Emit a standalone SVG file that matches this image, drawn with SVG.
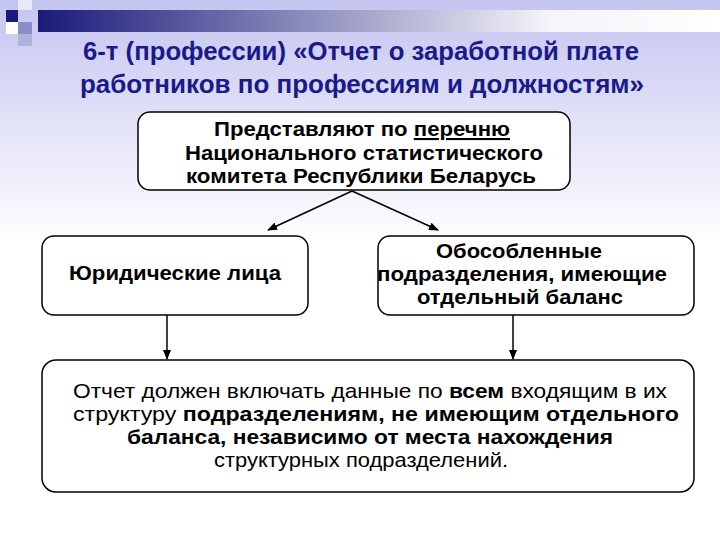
<svg xmlns="http://www.w3.org/2000/svg" width="720" height="540" viewBox="0 0 720 540">
<defs>
<linearGradient id="bg" x1="0" y1="0" x2="0" y2="1"><stop offset="0" stop-color="#c4c4f0"/><stop offset="0.45" stop-color="#ffffff"/><stop offset="1" stop-color="#ffffff"/></linearGradient>
<linearGradient id="bar" x1="0" y1="0" x2="1" y2="0"><stop offset="0" stop-color="#1a1a7a"/><stop offset="0.75" stop-color="#f4f4fa"/><stop offset="1" stop-color="#ffffff"/></linearGradient>
<marker id="ah" markerWidth="10" markerHeight="8" refX="9" refY="4" orient="auto" markerUnits="userSpaceOnUse"><path d="M0,0 L10,4 L0,8 Z" fill="#000"/></marker>
<style>
.box{fill:#fff;stroke:#000;stroke-width:1.5}
.t{font-family:"Liberation Sans",Arial,sans-serif;font-size:21px;text-anchor:middle;fill:#000}
.b{font-weight:bold}
.title{font-family:"Liberation Sans",Arial,sans-serif;font-size:26px;font-weight:bold;fill:#1a1a8c;text-anchor:middle}
line{stroke:#000;stroke-width:1.5}
</style>
</defs>
<rect width="720" height="540" fill="url(#bg)"/>
<rect x="38" y="10" width="682" height="22" fill="url(#bar)"/>
<rect x="6" y="10" width="12" height="12" fill="#1a1a7a"/>
<rect x="18" y="0" width="14" height="10" fill="#e8e8f8"/>
<rect x="6" y="22" width="12" height="12" fill="#ffffff"/>
<rect x="18" y="22" width="14" height="12" fill="#8c8cc8"/>
<rect x="18" y="34" width="14" height="12" fill="#b0b0dc"/>
<text class="title" x="361" y="60" textLength="556" lengthAdjust="spacingAndGlyphs">6-т (профессии) «Отчет о заработной плате</text>
<text class="title" x="362" y="93" textLength="564" lengthAdjust="spacingAndGlyphs">работников по профессиям и должностям»</text>
<g id="connectors">
<line x1="352" y1="191" x2="268" y2="230" marker-end="url(#ah)"/>
<line x1="352" y1="191" x2="438" y2="230" marker-end="url(#ah)"/>
<line x1="167" y1="315" x2="167" y2="359" marker-end="url(#ah)"/>
<line x1="513" y1="315" x2="513" y2="359" marker-end="url(#ah)"/>
</g>
<g id="top"><rect class="box" x="138" y="112" width="432" height="78" rx="12"/>
<text class="t b" x="362" y="136" textLength="296" lengthAdjust="spacingAndGlyphs">Представляют по <tspan text-decoration="underline">перечню</tspan></text>
<text class="t b" x="364" y="160" textLength="358" lengthAdjust="spacingAndGlyphs">Национального статистического</text>
<text class="t b" x="361" y="183" textLength="350" lengthAdjust="spacingAndGlyphs">комитета Республики Беларусь</text></g>
<g id="left"><rect class="box" x="42" y="236" width="266" height="79" rx="12"/>
<text class="t b" x="175" y="280" textLength="212" lengthAdjust="spacingAndGlyphs">Юридические лица</text></g>
<g id="right"><rect class="box" x="378" y="236" width="316" height="79" rx="12"/>
<text class="t b" x="519" y="258" textLength="166" lengthAdjust="spacingAndGlyphs">Обособленные</text>
<text class="t b" x="522" y="281" textLength="290" lengthAdjust="spacingAndGlyphs">подразделения, имеющие</text>
<text class="t b" x="520" y="304" textLength="206" lengthAdjust="spacingAndGlyphs">отдельный баланс</text></g>
<g id="bottom"><rect class="box" x="42" y="360" width="652" height="132" rx="14"/>
<text class="t" x="370" y="398" textLength="594" lengthAdjust="spacingAndGlyphs">Отчет должен включать данные по <tspan class="b">всем</tspan> входящим в их</text>
<text class="t" x="376" y="421" textLength="606" lengthAdjust="spacingAndGlyphs">структуру <tspan class="b">подразделениям, не имеющим отдельного</tspan></text>
<text class="t b" x="370" y="444" textLength="486" lengthAdjust="spacingAndGlyphs">баланса, независимо от места нахождения</text>
<text class="t" x="361" y="467" textLength="294" lengthAdjust="spacingAndGlyphs">структурных подразделений.</text></g>
</svg>
